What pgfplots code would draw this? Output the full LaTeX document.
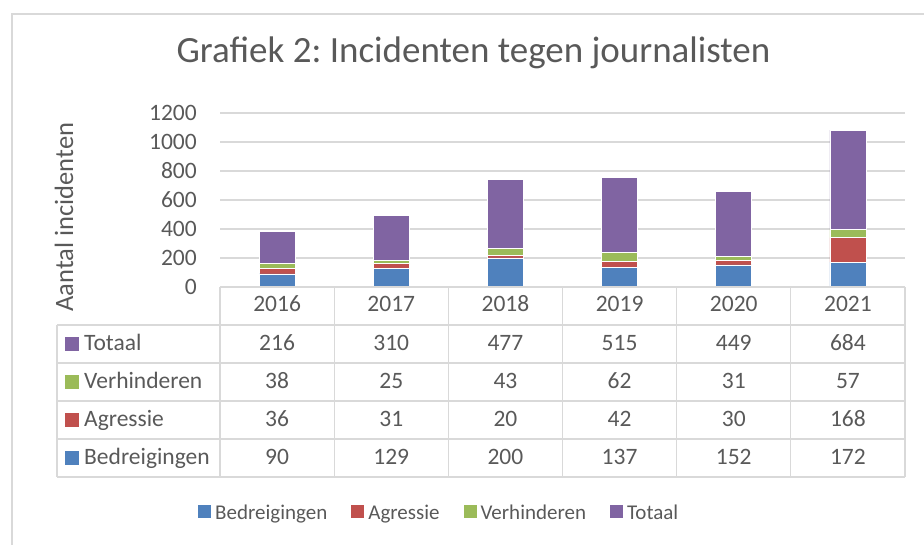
\documentclass[border=0pt]{standalone}
\usepackage{pgfplots}
\pgfplotsset{compat=1.18}
\usepackage{pgfplotstable}
\usepackage{fontspec}
\setmainfont{Carlito}
\frenchspacing
\definecolor{cB}{HTML}{4F81BD}
\definecolor{cA}{HTML}{C0504D}
\definecolor{cV}{HTML}{9BBB59}
\definecolor{cT}{HTML}{8064A2}
\definecolor{txt}{HTML}{595959}
\definecolor{ln}{HTML}{D9D9D9}

\pgfplotstableread{
x year B A V T
0 2016 90 36 38 216
1 2017 129 31 25 310
2 2018 200 20 43 477
3 2019 137 42 62 515
4 2020 152 30 31 449
5 2021 172 168 57 684
}\data

\newcommand{\fs}[1]{\fontsize{#1}{#1}\selectfont}
\pgfplotsset{sqlegend/.style={legend image code/.code={\draw[##1,draw=none] (0pt,-5pt) rectangle (13pt,8pt);}}}

\begin{document}
\begin{tikzpicture}
\path[use as bounding box] (0pt,0pt) rectangle (924pt,545pt);
\draw[ln, line width=1.3pt] (12pt,0pt) -- (12pt,531pt) -- (924pt,531pt);
\begin{axis}[
 at={(220pt,258pt)}, anchor=south west,
 scale only axis, width=685pt, height=174pt,
 xmin=-0.5, xmax=5.5, ymin=0, ymax=1200,
 ybar stacked, bar width=0.315,
 axis line style={draw=none},
 tick style={draw=none},
 ytick={0,200,...,1200},
 xtick={0,...,5},
 xticklabels={2016,2017,2018,2019,2020,2021},
 ymajorgrids, grid style={ln, line width=1.3pt},
 /pgf/number format/1000 sep={},
 /pgf/number format/assume math mode=true,
 tick label style={font=\fs{23.5}, text=txt},
 yticklabel style={anchor=east, inner sep=0pt, xshift=-23pt},
 xticklabel style={anchor=base, inner sep=0pt, yshift=-25pt},
 ylabel={Aantal incidenten},
 ylabel style={at={(-0.2277,0.4023)}, anchor=center, font=\fs{26.5}, text=txt},
 title={Grafiek 2: Incidenten tegen journalisten},
 title style={at={(0.370,1.2529)}, anchor=base, font=\fs{37}, text=txt},
 legend columns=4,
 legend style={at={(-0.0321,-1.300)}, anchor=west, draw=none, fill=none,
   inner sep=0pt, font=\fs{21}, text=txt, nodes={inner sep=0pt, text=txt},
   /tikz/every odd column/.style={column sep=4pt},
   /tikz/every even column/.style={column sep=24pt}},
 clip=false,
]
\addplot[fill=cB, draw=white, line width=0.8pt, sqlegend] table[x=x,y=B]{\data};
\addplot[fill=cA, draw=white, line width=0.8pt, sqlegend] table[x=x,y=A]{\data};
\addplot[fill=cV, draw=white, line width=0.8pt, sqlegend] table[x=x,y=V]{\data};
\addplot[fill=cT, draw=white, line width=0.8pt, sqlegend] table[x=x,y=T]{\data};
\legend{Bedreigingen,Agressie,Verhinderen,Totaal}
\end{axis}
\begin{scope}[ln, line width=1.3pt]
 \draw (220pt,258pt) -- (905pt,258pt);
 \foreach \y in {220pt,182pt,144pt,106pt,68pt} \draw (57pt,\y) -- (905pt,\y);
 \draw (57pt,220pt) -- (57pt,68pt);
 \foreach \i in {0,...,6} \draw ({220pt+114.1667pt*\i},258pt) -- ({220pt+114.1667pt*\i},68pt);
\end{scope}
\foreach \col/\yb/\c/\name in {T/194pt/cT/Totaal,V/156pt/cV/Verhinderen,A/118pt/cA/Agressie,B/80pt/cB/Bedreigingen}{
  \fill[\c] (65pt,\yb) rectangle ++(14pt,14pt);
  \node[anchor=base west, inner sep=0pt, font=\fs{23.5}, text=txt] at (84pt,\yb) {\name};
  \foreach \i in {0,...,5}{
    \pgfplotstablegetelem{\i}{\col}\of\data
    \node[anchor=base, inner sep=0pt, font=\fs{23.5}, text=txt] at ({220pt+114.1667pt*(\i+0.5)},\yb) {\pgfplotsretval};
  }
}
\end{tikzpicture}
\end{document}
